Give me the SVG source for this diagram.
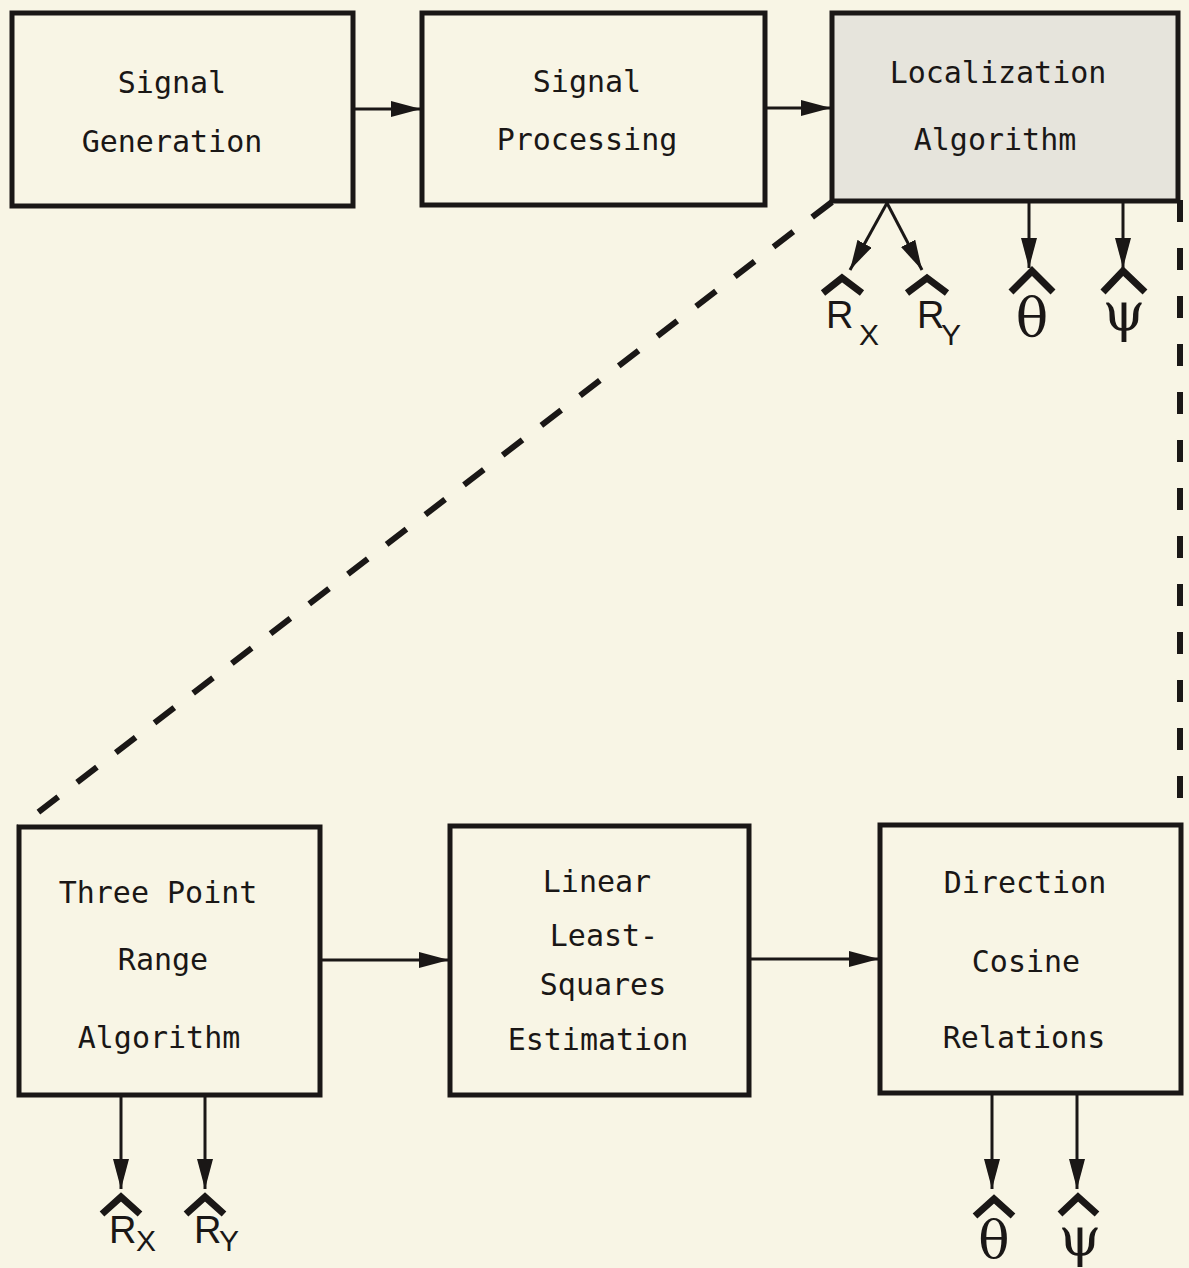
<svg xmlns="http://www.w3.org/2000/svg" width="1189" height="1268" viewBox="0 0 1189 1268">
  <defs>
    <style>
      .box { fill: none; stroke: #1a1716; stroke-width: 5; }
      .shaded { fill: #e6e4dc; }
      .lbl { font-family: "DejaVu Sans Mono", "Liberation Mono", monospace; font-size: 30px; fill: #1a1716; text-anchor: middle; }
      .conn { stroke: #1a1716; stroke-width: 3; fill: none; marker-end: url(#arr); }
      .dash { stroke: #1a1716; stroke-width: 6; fill: none; }
      .hat { stroke: #1a1716; stroke-width: 7; fill: none; stroke-linejoin: miter; stroke-linecap: butt; }
      .sym { font-family: "Liberation Sans", Arial, sans-serif; fill: #1a1716; }
      .greek { font-family: "DejaVu Serif", "Liberation Serif", serif; fill: #1a1716; text-anchor: middle; }
    </style>
    <marker id="arr" markerUnits="userSpaceOnUse" markerWidth="30" markerHeight="16" refX="30" refY="8" orient="auto">
      <path d="M0,0 L30,8 L0,16 z" fill="#1a1716"/>
    </marker>
  </defs>
  <rect x="0" y="0" width="1189" height="1268" fill="#f8f5e5"/>

  <g id="signal-generation">
    <rect class="box" x="12" y="13" width="341" height="193"/>
    <text class="lbl" x="172" y="93">Signal</text>
    <text class="lbl" x="172" y="152">Generation</text>
  </g>
  <g id="signal-processing">
    <rect class="box" x="422" y="13" width="343" height="192"/>
    <text class="lbl" x="587" y="92">Signal</text>
    <text class="lbl" x="587" y="150">Processing</text>
  </g>
  <g id="localization-algorithm">
    <rect class="box shaded" x="832" y="13" width="346" height="188"/>
    <text class="lbl" x="998" y="83">Localization</text>
    <text class="lbl" x="995" y="150">Algorithm</text>
  </g>
  <g id="three-point-range">
    <rect class="box" x="19" y="827" width="301" height="268"/>
    <text class="lbl" x="158" y="903">Three Point</text>
    <text class="lbl" x="163" y="970">Range</text>
    <text class="lbl" x="159" y="1048">Algorithm</text>
  </g>
  <g id="linear-least-squares">
    <rect class="box" x="450" y="826" width="299" height="269"/>
    <text class="lbl" x="597" y="892">Linear</text>
    <text class="lbl" x="604" y="946">Least-</text>
    <text class="lbl" x="603" y="995">Squares</text>
    <text class="lbl" x="598" y="1050">Estimation</text>
  </g>
  <g id="direction-cosine">
    <rect class="box" x="880" y="825" width="301" height="268"/>
    <text class="lbl" x="1025" y="893">Direction</text>
    <text class="lbl" x="1026" y="972">Cosine</text>
    <text class="lbl" x="1024" y="1048">Relations</text>
  </g>

  <g id="connectors">
    <line class="conn" x1="355" y1="109" x2="421" y2="109"/>
    <line class="conn" x1="767" y1="108" x2="831" y2="108"/>
    <line class="conn" x1="320" y1="960" x2="449" y2="960"/>
    <line class="conn" x1="749" y1="959" x2="879" y2="959"/>
    <line class="conn" x1="887" y1="203" x2="850" y2="270"/>
    <line class="conn" x1="887" y1="203" x2="922" y2="270"/>
    <line class="conn" x1="1029" y1="202" x2="1029" y2="268"/>
    <line class="conn" x1="1123" y1="202" x2="1123" y2="268"/>
    <line class="conn" x1="121" y1="1096" x2="121" y2="1189"/>
    <line class="conn" x1="205" y1="1096" x2="205" y2="1189"/>
    <line class="conn" x1="992" y1="1094" x2="992" y2="1189"/>
    <line class="conn" x1="1077" y1="1094" x2="1077" y2="1189"/>
    <line class="dash" x1="832" y1="202" x2="19" y2="827" stroke-dasharray="25 23.8"/>
    <line class="dash" x1="1180" y1="200" x2="1180" y2="825" stroke-dasharray="22 26"/>
  </g>

  <g id="outputs-top">
    <polyline class="hat" points="823,293 842,278 862,293"/>
    <text class="sym" x="826" y="328" font-size="38">R</text>
    <text class="sym" x="859" y="345" font-size="30">X</text>
    <polyline class="hat" points="907,293 927,278 947,293"/>
    <text class="sym" x="917" y="328" font-size="38">R</text>
    <text class="sym" x="941" y="345" font-size="30">Y</text>
    <polyline class="hat" points="1011,292 1032,271 1053,292"/>
    <text class="greek" x="1032" y="336" font-size="54">θ</text>
    <polyline class="hat" points="1103,292 1123,271 1145,292"/>
    <text class="greek" x="1124" y="331" font-size="54">ψ</text>
  </g>
  <g id="outputs-bottom">
    <polyline class="hat" points="102,1214 121,1197 140,1214"/>
    <text class="sym" x="109" y="1243" font-size="38">R</text>
    <text class="sym" x="136" y="1251" font-size="30">X</text>
    <polyline class="hat" points="186,1214 205,1197 224,1214"/>
    <text class="sym" x="194" y="1243" font-size="38">R</text>
    <text class="sym" x="219" y="1251" font-size="30">Y</text>
    <polyline class="hat" points="975,1216 994,1199 1013,1216"/>
    <text class="greek" x="994" y="1258" font-size="52">θ</text>
    <polyline class="hat" points="1060,1214 1078,1197 1097,1214"/>
    <text class="greek" x="1080" y="1256" font-size="54">ψ</text>
  </g>
</svg>
